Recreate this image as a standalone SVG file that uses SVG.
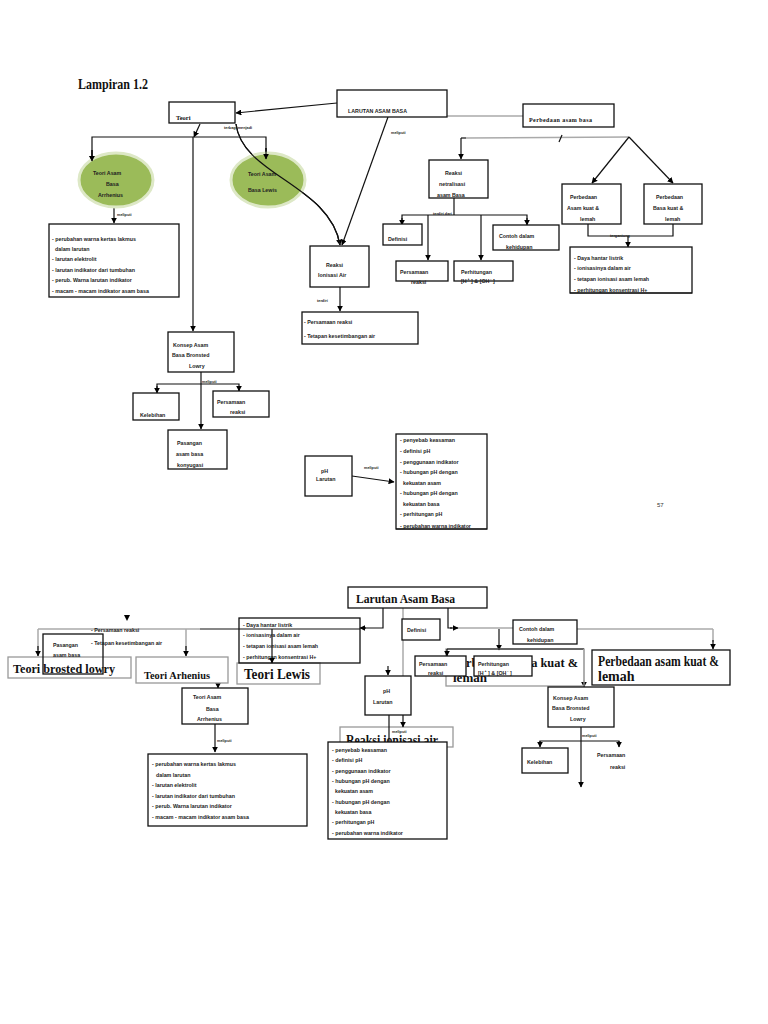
<svg xmlns="http://www.w3.org/2000/svg" width="768" height="1024" viewBox="0 0 768 1024">
<style>
.bx{fill:#fff;stroke:#111;stroke-width:1.3}
.gb{fill:#fff;stroke:#999;stroke-width:1.3}
.gbn{fill:none;stroke:#999;stroke-width:1.3}
.el{fill:#9bbb59;stroke:#dde8c6;stroke-width:3}
.t{font-family:"Liberation Sans",Arial,sans-serif;font-weight:bold;font-size:5.3px;fill:#222}
.s{font-family:"Liberation Sans",Arial,sans-serif;font-weight:bold;font-size:3.8px;fill:#222}
.sf{font-family:"Liberation Serif","Times New Roman",serif;font-weight:bold;fill:#111}
.ln{fill:none;stroke:#111;stroke-width:1.2}
.gl{fill:none;stroke:#aaa;stroke-width:1.5}
</style>
<defs>
<marker id="ah" viewBox="0 0 10 10" refX="9" refY="5" markerWidth="6" markerHeight="6" markerUnits="userSpaceOnUse" orient="auto"><path d="M0,0 L10,5 L0,10 z" fill="#000"/></marker>
</defs>
<rect width="768" height="1024" fill="#fff"/>

<text class="sf" x="78" y="89" font-size="14" textLength="70" lengthAdjust="spacingAndGlyphs">Lampiran 1.2</text>

<!-- ============ CONNECTORS ============ -->
<g id="connectors">
  <!-- top -->
  <line class="ln" x1="337" y1="103" x2="236" y2="113" marker-end="url(#ah)"/>
  <line class="ln" x1="388" y1="117" x2="342" y2="245" marker-end="url(#ah)"/>
  <path class="ln" d="M236,124 C242,175 330,185 340,245" marker-end="url(#ah)"/>
  <line class="ln" x1="200" y1="124" x2="194" y2="137" marker-end="url(#ah)"/>
  <polyline class="ln" points="92,160 92,137 266,137 266,158"/>
  <line class="ln" x1="92" y1="150" x2="92" y2="161" marker-end="url(#ah)"/>
  <line class="ln" x1="266" y1="148" x2="266" y2="159" marker-end="url(#ah)"/>
  <line class="ln" x1="193" y1="137" x2="193" y2="331" marker-end="url(#ah)"/>
  <line class="ln" x1="114" y1="202" x2="114" y2="223" marker-end="url(#ah)"/>
  <line class="gl" x1="447" y1="116" x2="523" y2="116"/>
  <line class="gl" x1="466" y1="138" x2="629" y2="137"/>
  <line class="ln" x1="461" y1="138" x2="466" y2="138"/>
  <line class="ln" x1="461" y1="138" x2="461" y2="159" marker-end="url(#ah)"/>
  <line class="ln" x1="559" y1="142" x2="562" y2="135"/>
  <line class="ln" x1="629" y1="137" x2="592" y2="183" marker-end="url(#ah)"/>
  <line class="ln" x1="629" y1="137" x2="673" y2="183" marker-end="url(#ah)"/>
  <polyline class="ln" points="454,198 454,215"/>
  <polyline class="ln" points="402,224 402,215 527,215 527,224"/>
  <line class="ln" x1="402" y1="218" x2="402" y2="225" marker-end="url(#ah)"/>
  <line class="ln" x1="527" y1="218" x2="527" y2="225" marker-end="url(#ah)"/>
  <line class="ln" x1="428" y1="215" x2="428" y2="260" marker-end="url(#ah)"/>
  <line class="ln" x1="481" y1="215" x2="481" y2="260" marker-end="url(#ah)"/>
  <line class="ln" x1="340" y1="287" x2="340" y2="311" marker-end="url(#ah)"/>
  <polyline class="ln" points="588,224 588,236 673,236 673,224"/>
  <line class="ln" x1="628" y1="236" x2="628" y2="247" marker-end="url(#ah)"/>
  <line class="ln" x1="201" y1="372" x2="201" y2="429" marker-end="url(#ah)"/>
  <polyline class="ln" points="157,392 157,384 239,384 239,392"/>
  <line class="ln" x1="157" y1="386" x2="157" y2="393" marker-end="url(#ah)"/>
  <line class="ln" x1="239" y1="386" x2="239" y2="391" marker-end="url(#ah)"/>
  <line class="ln" x1="352" y1="476" x2="394" y2="482" marker-end="url(#ah)"/>

  <!-- bottom -->
  <polyline class="ln" points="383,608 383,628 362,628"/>
  <line class="ln" x1="366" y1="628" x2="360" y2="628" marker-end="url(#ah)"/>
  <line class="gl" x1="38" y1="629" x2="200" y2="629"/>
  <line class="gl" x1="38" y1="629" x2="38" y2="650"/>
  <line class="ln" x1="38" y1="646" x2="38" y2="656" marker-end="url(#ah)"/>
  <line class="gl" x1="186" y1="629" x2="186" y2="650"/>
  <line class="ln" x1="186" y1="646" x2="186" y2="656" marker-end="url(#ah)"/>
  <polygon points="124,615 130,615 127,621" fill="#000"/>
  <line class="gl" x1="403" y1="608" x2="403" y2="676"/>
  <line class="ln" x1="388" y1="666" x2="388" y2="675" marker-end="url(#ah)"/>
  <line class="ln" x1="218" y1="683" x2="218" y2="688" marker-end="url(#ah)"/>
  <line class="ln" x1="215" y1="723" x2="215" y2="752" marker-end="url(#ah)"/>
  <polyline class="ln" points="448,608 448,628 452,628"/>
  <line class="ln" x1="450" y1="628" x2="458" y2="628" marker-end="url(#ah)"/>
  <line class="gl" x1="458" y1="628" x2="513" y2="628"/>
  <line class="ln" x1="499" y1="629" x2="499" y2="650" marker-end="url(#ah)"/>
  <line class="gl" x1="577" y1="629" x2="713" y2="629"/>
  <line class="gl" x1="713" y1="629" x2="713" y2="642"/>
  <line class="ln" x1="713" y1="640" x2="713" y2="649" marker-end="url(#ah)"/>
  <line class="ln" x1="584" y1="680" x2="584" y2="687" marker-end="url(#ah)"/>
  <line class="ln" x1="581" y1="727" x2="581" y2="787" marker-end="url(#ah)"/>
  <polyline class="ln" points="540,745 540,741 619,741 619,745"/>
  <line class="ln" x1="540" y1="741" x2="540" y2="747" marker-end="url(#ah)"/>
  <line class="ln" x1="619" y1="741" x2="619" y2="747" marker-end="url(#ah)"/>
</g>

<!-- ============ TOP NODES ============ -->
<g id="n-teori">
  <rect class="bx" x="169" y="102" width="66" height="21"/>
  <text class="sf" x="176" y="120" font-size="6.5">Teori</text>
</g>
<text class="s" x="224" y="129">terbagi menjadi</text>
<g id="n-larutan">
  <rect class="bx" x="337" y="90" width="110" height="27"/>
  <text class="t" x="348" y="113" textLength="59">LARUTAN ASAM BASA</text>
</g>
<text class="s" x="391" y="134">meliputi</text>
<g id="n-perbedaan-ab">
  <rect class="bx" x="523" y="104" width="91" height="23"/>
  <text class="sf" x="529" y="122" font-size="6" textLength="63">Perbedaan asam basa</text>
</g>
<g id="n-arrhenius-el">
  <ellipse class="el" cx="116" cy="180" rx="37" ry="27"/>
  <text class="t" x="93" y="175">Teori Asam</text>
  <text class="t" x="106" y="186">Basa</text>
  <text class="t" x="98" y="197">Arrhenius</text>
</g>
<g id="n-lewis-el">
  <ellipse class="el" cx="268" cy="180" rx="37" ry="27"/>
  <text class="t" x="248" y="176">Teori Asam</text>
  <text class="t" x="248" y="192">Basa Lewis</text>
</g>
<!-- redraw lines that cross ellipses -->
<path class="ln" d="M236,124 C242,175 330,185 340,245"/>
<line class="ln" x1="92" y1="150" x2="92" y2="161" marker-end="url(#ah)"/>
<line class="ln" x1="266" y1="148" x2="266" y2="159" marker-end="url(#ah)"/>
<text class="s" x="117" y="216">meliputi</text>
<g id="n-arrhenius-list">
  <rect class="bx" x="49" y="224" width="130" height="73"/>
  <text class="t" x="52" y="241">- perubahan warna kertas lakmus</text>
  <text class="t" x="55" y="251">dalam larutan</text>
  <text class="t" x="52" y="261">- larutan elektrolit</text>
  <text class="t" x="52" y="272">- larutan indikator dari tumbuhan</text>
  <text class="t" x="52" y="282">- perub. Warna larutan indikator</text>
  <text class="t" x="52" y="293">- macam - macam indikator asam basa</text>
</g>
<g id="n-netralisasi">
  <rect class="bx" x="429" y="160" width="59" height="38"/>
  <text class="t" x="445" y="175">Reaksi</text>
  <text class="t" x="439" y="186">netralisasi</text>
  <text class="t" x="437" y="197">asam Basa</text>
</g>
<text class="s" x="433" y="215">terdiri dari</text>
<g id="n-definisi">
  <rect class="bx" x="383" y="224" width="39" height="21"/>
  <text class="t" x="388" y="241">Definisi</text>
</g>
<g id="n-contoh">
  <rect class="bx" x="493" y="225" width="66" height="25"/>
  <text class="t" x="499" y="238">Contoh dalam</text>
  <text class="t" x="506" y="249">kehidupan</text>
</g>
<g id="n-persamaan1">
  <rect class="bx" x="396" y="261" width="52" height="20"/>
  <text class="t" x="400" y="274">Persamaan</text>
  <text class="t" x="411" y="284">reaksi</text>
</g>
<g id="n-perhitungan1">
  <rect class="bx" x="454" y="261" width="59" height="20"/>
  <text class="t" x="461" y="274">Perhitungan</text>
  <text class="t" x="461" y="283">[H<tspan font-size="3.5" dy="-3"> +</tspan><tspan dy="3"> ] &amp; [OH</tspan><tspan font-size="3.5" dy="-3">       -</tspan><tspan dy="3">  ]</tspan></text>
</g>
<g id="n-ionisasi">
  <rect class="bx" x="310" y="246" width="59" height="41"/>
  <text class="t" x="326" y="267">Reaksi</text>
  <text class="t" x="318" y="277">Ionisasi Air</text>
</g>
<text class="s" x="317" y="302">terdiri</text>
<g id="n-ionisasi-list">
  <rect class="bx" x="302" y="312" width="116" height="32"/>
  <text class="t" x="304" y="324">- Persamaan reaksi</text>
  <text class="t" x="304" y="338">- Tetapan kesetimbangan air</text>
</g>
<g id="n-perb-asam">
  <rect class="bx" x="562" y="184" width="59" height="40"/>
  <text class="t" x="570" y="199">Perbedaan</text>
  <text class="t" x="567" y="210">Asam kuat &amp;</text>
  <text class="t" x="580" y="221">lemah</text>
</g>
<g id="n-perb-basa">
  <rect class="bx" x="644" y="184" width="58" height="40"/>
  <text class="t" x="656" y="199">Perbedaan</text>
  <text class="t" x="653" y="210">Basa kuat &amp;</text>
  <text class="t" x="665" y="221">lemah</text>
</g>
<text class="s" x="610" y="237">tergantung</text>
<g id="n-daya-list">
  <rect class="bx" x="570" y="247" width="122" height="46"/>
  <text class="t" x="574" y="260">- Daya hantar listrik</text>
  <text class="t" x="574" y="270">- ionisasinya dalam air</text>
  <text class="t" x="574" y="281">- tetapan ionisasi asam lemah</text>
  <text class="t" x="574" y="292">- perhitungan konsentrasi H+</text>
  <line class="ln" x1="570" y1="293" x2="692" y2="293"/>
</g>
<g id="n-konsep1">
  <rect class="bx" x="168" y="332" width="66" height="40"/>
  <text class="t" x="173" y="347">Konsep Asam</text>
  <text class="t" x="172" y="357">Basa Bronsted</text>
  <text class="t" x="189" y="368">Lowry</text>
</g>
<text class="s" x="202" y="383">meliputi</text>
<g id="n-kelebihan1">
  <rect class="bx" x="133" y="393" width="46" height="27"/>
  <text class="t" x="140" y="417">Kelebihan</text>
</g>
<g id="n-persamaan2">
  <rect class="bx" x="213" y="391" width="56" height="26"/>
  <text class="t" x="217" y="404">Persamaan</text>
  <text class="t" x="230" y="414">reaksi</text>
</g>
<g id="n-pasangan1">
  <rect class="bx" x="168" y="430" width="59" height="39"/>
  <text class="t" x="177" y="445">Pasangan</text>
  <text class="t" x="176" y="456">asam basa</text>
  <text class="t" x="177" y="467">konyugasi</text>
</g>
<g id="n-ph1">
  <rect class="bx" x="305" y="456" width="47" height="40"/>
  <text class="t" x="321" y="473">pH</text>
  <text class="t" x="316" y="481">Larutan</text>
</g>
<text class="s" x="364" y="469">meliputi</text>
<g id="n-ph-list1">
  <rect class="bx" x="396" y="434" width="91" height="95"/>
  <text class="t" x="400" y="442">- penyebab keasaman</text>
  <text class="t" x="400" y="453">- definisi pH</text>
  <text class="t" x="400" y="464">- penggunaan indikator</text>
  <text class="t" x="400" y="474">- hubungan pH dengan</text>
  <text class="t" x="403" y="485">kekuatan asam</text>
  <text class="t" x="400" y="495">- hubungan pH dengan</text>
  <text class="t" x="403" y="506">kekuatan basa</text>
  <text class="t" x="400" y="516">- perhitungan pH</text>
  <text class="t" x="400" y="528">- perubahan warna indikator</text>
  <line class="ln" x1="396" y1="529" x2="487" y2="529"/>
</g>
<text x="657" y="507" font-family="Liberation Sans,Arial,sans-serif" font-size="6" fill="#333">57</text>

<!-- ============ BOTTOM NODES ============ -->
<g id="n-larutan2">
  <rect class="bx" x="348" y="587" width="139" height="21"/>
  <text class="sf" x="356" y="603" font-size="12.5" textLength="99" lengthAdjust="spacingAndGlyphs">Larutan Asam Basa</text>
</g>
<g id="n-brosted">
  <rect class="gb" x="8" y="657" width="123" height="21"/>
  <text class="sf" x="13" y="673" font-size="13" textLength="102" lengthAdjust="spacingAndGlyphs">Teori brosted lowry</text>
</g>
<g id="n-pasangan2">
  <rect x="43" y="634" width="60" height="40" fill="none" stroke="#111" stroke-width="1.3"/>
  <text class="t" x="53" y="647" fill="#555">Pasangan</text>
  <text class="t" x="53" y="657" fill="#555">asam basa</text>
</g>
<text class="t" x="91" y="632">- Persamaan reaksi</text>
<text class="t" x="91" y="645">- Tetapan kesetimbangan air</text>
<g id="n-arhenius2">
  <rect class="gb" x="136" y="657" width="92" height="26"/>
  <text class="sf" x="144" y="679" font-size="11" textLength="66" lengthAdjust="spacingAndGlyphs">Teori Arhenius</text>
</g>
<g id="n-lewis2">
  <rect class="gb" x="237" y="663" width="83" height="21"/>
  <text class="sf" x="244" y="679" font-size="14" textLength="66" lengthAdjust="spacingAndGlyphs">Teori Lewis</text>
</g>
<g id="n-daya-list2">
  <rect x="239" y="618" width="121" height="45" fill="none" stroke="#111" stroke-width="1.3"/>
  <text class="t" x="243" y="627">- Daya hantar listrik</text>
  <text class="t" x="243" y="637">- ionisasinya dalam air</text>
  <text class="t" x="243" y="648">- tetapan ionisasi asam lemah</text>
  <text class="t" x="243" y="659">- perhitungan konsentrasi H+</text>
</g>
<line class="ln" x1="200" y1="629" x2="360" y2="629"/>
<line class="ln" x1="272" y1="629" x2="272" y2="663" marker-end="url(#ah)"/>
<g id="n-arrhenius-box2">
  <rect class="bx" x="182" y="688" width="66" height="36"/>
  <text class="t" x="193" y="699">Teori Asam</text>
  <text class="t" x="206" y="711">Basa</text>
  <text class="t" x="197" y="721">Arrhenius</text>
</g>
<text class="s" x="217" y="742">meliputi</text>
<g id="n-arrhenius-list2">
  <rect class="bx" x="148" y="754" width="159" height="72"/>
  <text class="t" x="152" y="766">- perubahan warna kertas lakmus</text>
  <text class="t" x="156" y="777">dalam larutan</text>
  <text class="t" x="152" y="787">- larutan elektrolit</text>
  <text class="t" x="152" y="798">- larutan indikator dari tumbuhan</text>
  <text class="t" x="152" y="808">- perub. Warna larutan indikator</text>
  <text class="t" x="152" y="819">- macam - macam indikator asam basa</text>
</g>
<g id="n-definisi2">
  <rect class="bx" x="402" y="619" width="38" height="21"/>
  <text class="t" x="407" y="632">Definisi</text>
</g>
<g id="n-contoh2">
  <rect class="bx" x="513" y="620" width="64" height="24"/>
  <text class="t" x="519" y="631">Contoh dalam</text>
  <text class="t" x="527" y="642">kehidupan</text>
</g>
<g id="n-perb-basa2">
  <rect class="gbn" x="446" y="649" width="138" height="37"/>
  <text class="sf" x="453" y="667" font-size="13" textLength="125" lengthAdjust="spacingAndGlyphs">Perbedaan basa kuat &amp;</text>
  <text class="sf" x="453" y="682" font-size="13">lemah</text>
</g>
<line class="ln" x1="447" y1="649" x2="584" y2="649"/>
<line class="gl" x1="584" y1="649" x2="584" y2="682"/>
<line class="ln" x1="447" y1="649" x2="447" y2="656" marker-end="url(#ah)"/>
<g id="n-persamaan3">
  <rect class="bx" x="415" y="656" width="51" height="20"/>
  <text class="t" x="419" y="666">Persamaan</text>
  <text class="t" x="428" y="675">reaksi</text>
</g>
<g id="n-perhitungan2">
  <rect class="bx" x="474" y="656" width="58" height="20"/>
  <text class="t" x="478" y="666">Perhitungan</text>
  <text class="t" x="478" y="675">[H<tspan font-size="3.5" dy="-3"> +</tspan><tspan dy="3"> ] &amp; [OH</tspan><tspan font-size="3.5" dy="-3">       -</tspan><tspan dy="3">  ]</tspan></text>
</g>
<g id="n-perb-asam2">
  <rect class="bx" x="592" y="650" width="138" height="35"/>
  <text class="sf" x="598" y="666" font-size="14" textLength="121" lengthAdjust="spacingAndGlyphs">Perbedaan asam kuat &amp;</text>
  <text class="sf" x="598" y="681" font-size="14">lemah</text>
</g>
<g id="n-ph2">
  <rect class="bx" x="365" y="676" width="46" height="39"/>
  <text class="t" x="383" y="693">pH</text>
  <text class="t" x="373" y="704">Larutan</text>
</g>
<g id="n-ionisasi2">
  <rect class="gb" x="340" y="727" width="113" height="20"/>
  <text class="sf" x="346" y="745" font-size="14" textLength="92" lengthAdjust="spacingAndGlyphs">Reaksi ionisasi air</text>
</g>
<line class="ln" x1="389" y1="715" x2="389" y2="745"/>
<line class="ln" x1="403" y1="715" x2="403" y2="727" marker-end="url(#ah)"/>
<text class="s" x="392" y="733">meliputi</text>
<g id="n-ph-list2">
  <rect class="bx" x="328" y="742" width="119" height="97"/>
  <text class="t" x="332" y="752">- penyebab keasaman</text>
  <text class="t" x="332" y="762">- definisi pH</text>
  <text class="t" x="332" y="773">- penggunaan indikator</text>
  <text class="t" x="332" y="783">- hubungan pH dengan</text>
  <text class="t" x="335" y="793">kekuatan asam</text>
  <text class="t" x="332" y="804">- hubungan pH dengan</text>
  <text class="t" x="335" y="814">kekuatan basa</text>
  <text class="t" x="332" y="824">- perhitungan pH</text>
  <text class="t" x="332" y="835">- perubahan warna indikator</text>
</g>
<g id="n-konsep2">
  <rect class="bx" x="548" y="687" width="66" height="40"/>
  <text class="t" x="553" y="700">Konsep Asam</text>
  <text class="t" x="552" y="710">Basa Bronsted</text>
  <text class="t" x="570" y="721">Lowry</text>
</g>
<text class="s" x="582" y="737">meliputi</text>
<g id="n-kelebihan2">
  <rect class="bx" x="522" y="748" width="46" height="25"/>
  <text class="t" x="527" y="764">Kelebihan</text>
</g>
<g id="n-persamaan4">
  <text class="t" x="597" y="757">Persamaan</text>
  <text class="t" x="610" y="769">reaksi</text>
</g>
</svg>
